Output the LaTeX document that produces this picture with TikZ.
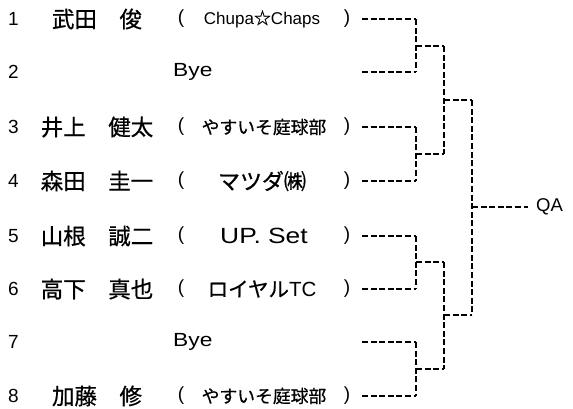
\documentclass[tikz,border=0pt]{standalone}
\usepackage{fontspec}
\newfontfamily\jp[FakeBold=0.6]{Noto Sans CJK JP}
\newfontfamily\lb{Liberation Sans}
\newfontfamily\la[FakeStretch=1.2]{Liberation Sans}
\begin{document}
\begin{tikzpicture}[x=1pt,y=-1pt,
  txt/.style={inner sep=0pt,anchor=center},
  num/.style={inner sep=0pt,anchor=west,font=\fontsize{19}{19}\selectfont\lb},
  nm/.style={inner sep=0pt,anchor=center,font=\fontsize{22.5}{22.5}\selectfont\jp},
  par/.style={inner sep=0pt,anchor=center,font=\fontsize{19}{19}\selectfont\lb},
  dl/.style={line width=1.6pt,dash pattern=on 6pt off 2.6pt,black}]
\useasboundingbox[fill=white] (0,0) rectangle (573,409);
% rows
\def\ya{19}\def\yb{72}\def\yc{127}\def\yd{181}\def\ye{236}\def\yf{289}\def\yg{342}\def\yh{396}
\node[num] (n1) at (8,\ya) {1};
\node[num] (n2) at (8,\yb) {2};
\node[num] (n3) at (8,\yc) {3};
\node[num] (n4) at (8,\yd) {4};
\node[num] (n5) at (8,\ye) {5};
\node[num] (n6) at (8,\yf) {6};
\node[num] (n7) at (8,\yg) {7};
\node[num] (n8) at (8,\yh) {8};
% names
\node[nm] (p1) at (97,\ya) {武田　俊};
\node[nm] (p3) at (97,\yc) {井上　健太};
\node[nm] (p4) at (97,\yd) {森田　圭一};
\node[nm] (p5) at (97,\ye) {山根　誠二};
\node[nm] (p6) at (97,\yf) {高下　真也};
\node[nm] (p8) at (97,\yh) {加藤　修};
% parens
\foreach \r/\y in {1/\ya,3/\yc,4/\yd,5/\ye,6/\yf,8/\yh}{
  \node[par] (lp\r) at (181,\y) {(};
  \node[par] (rp\r) at (347,\y) {)};
}
% teams
\node[txt,font=\fontsize{17}{17}\selectfont\lb] (t1) at (262,\ya) {Chupa{\jp ☆}Chaps};
\node[txt,anchor=west,font=\fontsize{19}{19}\selectfont\la] (t2) at (173,\yb) {Bye};
\node[txt,font=\fontsize{17.8}{17.8}\selectfont\jp] (t3) at (264,\yc) {やすいそ庭球部};
\node[txt,font=\fontsize{22}{22}\selectfont\jp] (t4) at (262,\yd) {マツダ㈱};
\node[txt,font=\fontsize{22}{22}\selectfont\la] (t5) at (264,\ye) {UP. Set};
\node[txt,font=\fontsize{20.5}{20.5}\selectfont\jp] (t6) at (262,\yf) {ロイヤル{\lb TC}};
\node[txt,anchor=west,font=\fontsize{19}{19}\selectfont\la] (t7) at (173,\yg) {Bye};
\node[txt,font=\fontsize{17.8}{17.8}\selectfont\jp] (t8) at (264,\yh) {やすいそ庭球部};
\node[txt,anchor=west,font=\fontsize{18.5}{18.5}\selectfont\lb] (qa) at (536,207) {QA};
% bracket coordinates
\foreach \r/\y in {1/\ya,2/\yb,3/\yc,4/\yd,5/\ye,6/\yf,7/\yg,8/\yh}{
  \coordinate (s\r) at (362,\y);
  \coordinate (e\r) at (416,\y);
}
\coordinate (m12) at (416,46);   \coordinate (k12) at (444,46);
\coordinate (m34) at (416,154);  \coordinate (k34) at (444,154);
\coordinate (m56) at (416,262);  \coordinate (k56) at (444,262);
\coordinate (m78) at (416,369);  \coordinate (k78) at (444,369);
\coordinate (m14) at (444,100);  \coordinate (k14) at (472,100);
\coordinate (m58) at (444,315);  \coordinate (k58) at (472,315);
\coordinate (fin) at (472,207);  \coordinate (qe) at (528,207);
% round 1
\foreach \r in {1,...,8}{ \draw[dl] (s\r) -- (e\r); }
\draw[dl] (e1) -- (e2);
\draw[dl] (e3) -- (e4);
\draw[dl] (e5) -- (e6);
\draw[dl] (e7) -- (e8);
% round 2
\draw[dl] (m12) -- (k12);
\draw[dl] (m34) -- (k34);
\draw[dl] (m56) -- (k56);
\draw[dl] (m78) -- (k78);
\draw[dl] (k12) -- (k34);
\draw[dl] (k56) -- (k78);
% round 3
\draw[dl] (m14) -- (k14);
\draw[dl] (m58) -- (k58);
\draw[dl] (k14) -- (k58);
% final
\draw[dl] (fin) -- (qe);
\end{tikzpicture}
\end{document}
